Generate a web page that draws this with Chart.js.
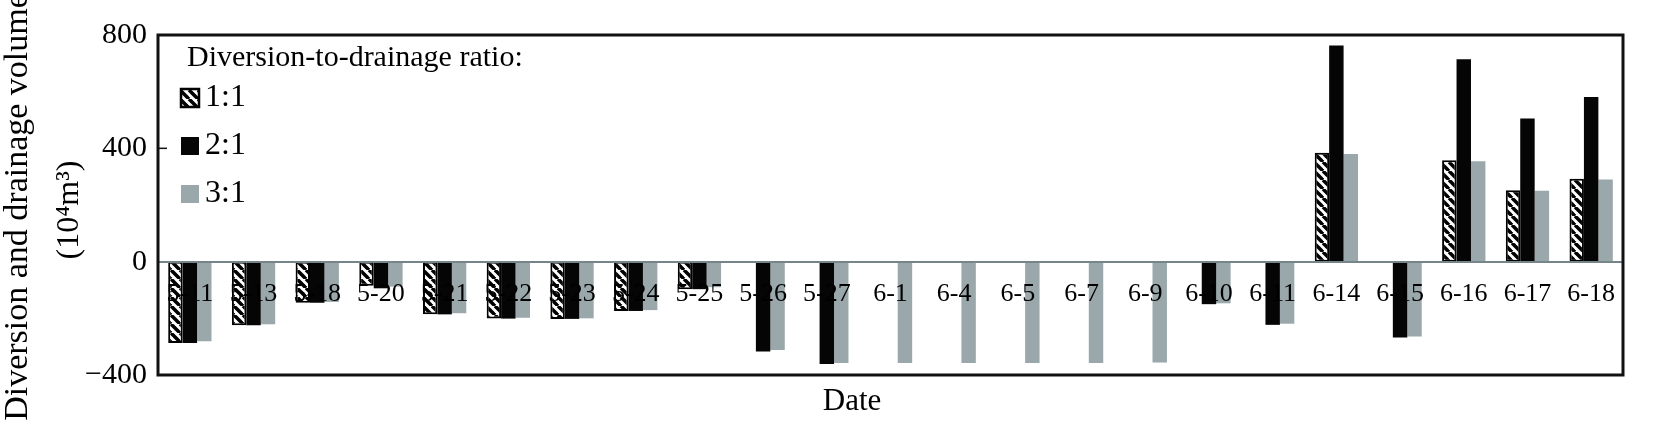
<!DOCTYPE html>
<html>
<head>
<meta charset="utf-8">
<script src="https://cdn.jsdelivr.net/npm/chart.js@4"></script>
<style>
  html, body { margin: 0; padding: 0; background: #fff; }
  #wrap { width: 1655px; height: 421px; }
</style>
</head>
<body>
<div id="wrap"><canvas id="chart" width="1655" height="421"></canvas></div>
<script>
const categories = ['5-11', '5-13', '5-18', '5-20', '5-21', '5-22', '5-23', '5-24', '5-25', '5-26', '5-27',
    '6-1', '6-4', '6-5', '6-7', '6-9', '6-10', '6-11', '6-14', '6-15', '6-16', '6-17', '6-18'];
// diversion (+) / drainage (-) volume, 10^4 m3
const ratio11 = [-287, -224, -145, -85, -186, -201, -202, -174, -97, 0, 0,
    0, 0, 0, 0, 0, 0, 0, 384, 0, 358, 252, 293];
const ratio21 = [-287, -224, -145, -94, -186, -201, -202, -174, -97, -317, -361,
    0, 0, 0, 0, 0, -150, -223, 763, -268, 714, 505, 581];
const ratio31 = [-281, -221, -142, -88, -182, -198, -200, -171, -90, -312, -358,
    -358, -358, -358, -358, -356, -147, -219, 380, -264, 354, 250, 290];
const yTicks = [-400, 0, 400, 800];

const FONT = '"Liberation Serif", "Times New Roman", serif';
const GREY = '#9aa8ab';

function hatch() {
    const c = document.createElement('canvas');
    c.width = 9;
    c.height = 9;
    const g = c.getContext('2d');
    g.fillStyle = '#fff';
    g.fillRect(0, 0, 9, 9);
    g.strokeStyle = '#000';
    g.lineWidth = 3.5;
    for (let x = -9; x <= 9; x += 9) {
        g.beginPath();
        g.moveTo(x, 0);
        g.lineTo(x + 9, 9);
        g.stroke();
    }
    return g.createPattern(c, 'repeat');
}
const hatchFill = hatch();

// frame, inner tick, axis titles and the in-plot legend
const decorations = {
    id: 'decorations',
    afterDraw(chart) {
        const { ctx, chartArea: a, scales } = chart;
        ctx.save();
        ctx.strokeStyle = '#111';
        ctx.lineWidth = 1.5;
        const y400 = scales.y.getPixelForValue(400);
        ctx.beginPath();
        ctx.moveTo(a.left, y400);
        ctx.lineTo(a.left + 9, y400);
        ctx.stroke();
        ctx.lineWidth = 3;
        ctx.strokeRect(a.left, a.top, a.right - a.left, a.bottom - a.top);

        ctx.fillStyle = '#000';
        ctx.textBaseline = 'middle';
        ctx.font = '31px ' + FONT;
        ctx.textAlign = 'center';
        ctx.fillText('Date', 852, 402);

        ctx.save();
        ctx.translate(18, 207);
        ctx.rotate(-Math.PI / 2);
        ctx.font = '34px ' + FONT;
        ctx.fillText('Diversion and drainage volume', 0, 0);
        ctx.restore();
        ctx.save();
        ctx.translate(70, 210);
        ctx.rotate(-Math.PI / 2);
        ctx.font = '32px ' + FONT;
        ctx.fillText('(10\u2074m\u00b3)', 0, 0);
        ctx.restore();

        ctx.textAlign = 'left';
        ctx.font = '30px ' + FONT;
        ctx.fillText('Diversion-to-drainage ratio:', 187, 58);
        ctx.font = '32px ' + FONT;
        chart.data.datasets.forEach((ds, i) => {
            const cy = 98 + i * 48;
            ctx.fillStyle = ds.backgroundColor;
            ctx.fillRect(181, cy - 9, 18, 18);
            if (ds.borderWidth) {
                ctx.lineWidth = 2.5;
                ctx.strokeStyle = '#000';
                ctx.strokeRect(181, cy - 9, 18, 18);
            }
            ctx.fillStyle = '#000';
            ctx.fillText(ds.label, 205, cy);
        });
        ctx.restore();
    }
};

new Chart(document.getElementById('chart'), {
    type: 'bar',
    data: {
        labels: categories,
        datasets: [
            { label: '1:1', data: ratio11, backgroundColor: hatchFill, borderColor: '#000', borderWidth: 2, borderSkipped: false },
            { label: '2:1', data: ratio21, backgroundColor: '#050505', borderWidth: 0 },
            { label: '3:1', data: ratio31, backgroundColor: GREY, borderWidth: 0 }
        ]
    },
    options: {
        responsive: false,
        animation: false,
        devicePixelRatio: 1,
        categoryPercentage: 0.68,
        barPercentage: 1,
        layout: { padding: { left: 0, top: 35, right: 32, bottom: 46 } },
        plugins: { legend: { display: false }, tooltip: { enabled: false } },
        scales: {
            x: {
                position: { y: 0 },
                grid: { display: false, drawTicks: false },
                border: { display: true, color: '#75858a', width: 2, z: 1 },
                ticks: {
                    z: 1,
                    color: '#000',
                    font: { family: FONT, size: 26 },
                    padding: 17,
                    autoSkip: false,
                    maxRotation: 0
                }
            },
            y: {
                min: -400,
                max: 800,
                afterFit: (s) => { s.width = 158; },
                afterBuildTicks: (s) => { s.ticks = yTicks.map(v => ({ value: v })); },
                grid: { display: false, drawTicks: false },
                border: { display: false },
                ticks: {
                    color: '#000',
                    padding: 11,
                    font: { family: FONT, size: 30 },
                    callback: (v) => String(v).replace('-', '\u2212')
                }
            }
        }
    },
    plugins: [decorations]
});
</script>
</body>
</html>
